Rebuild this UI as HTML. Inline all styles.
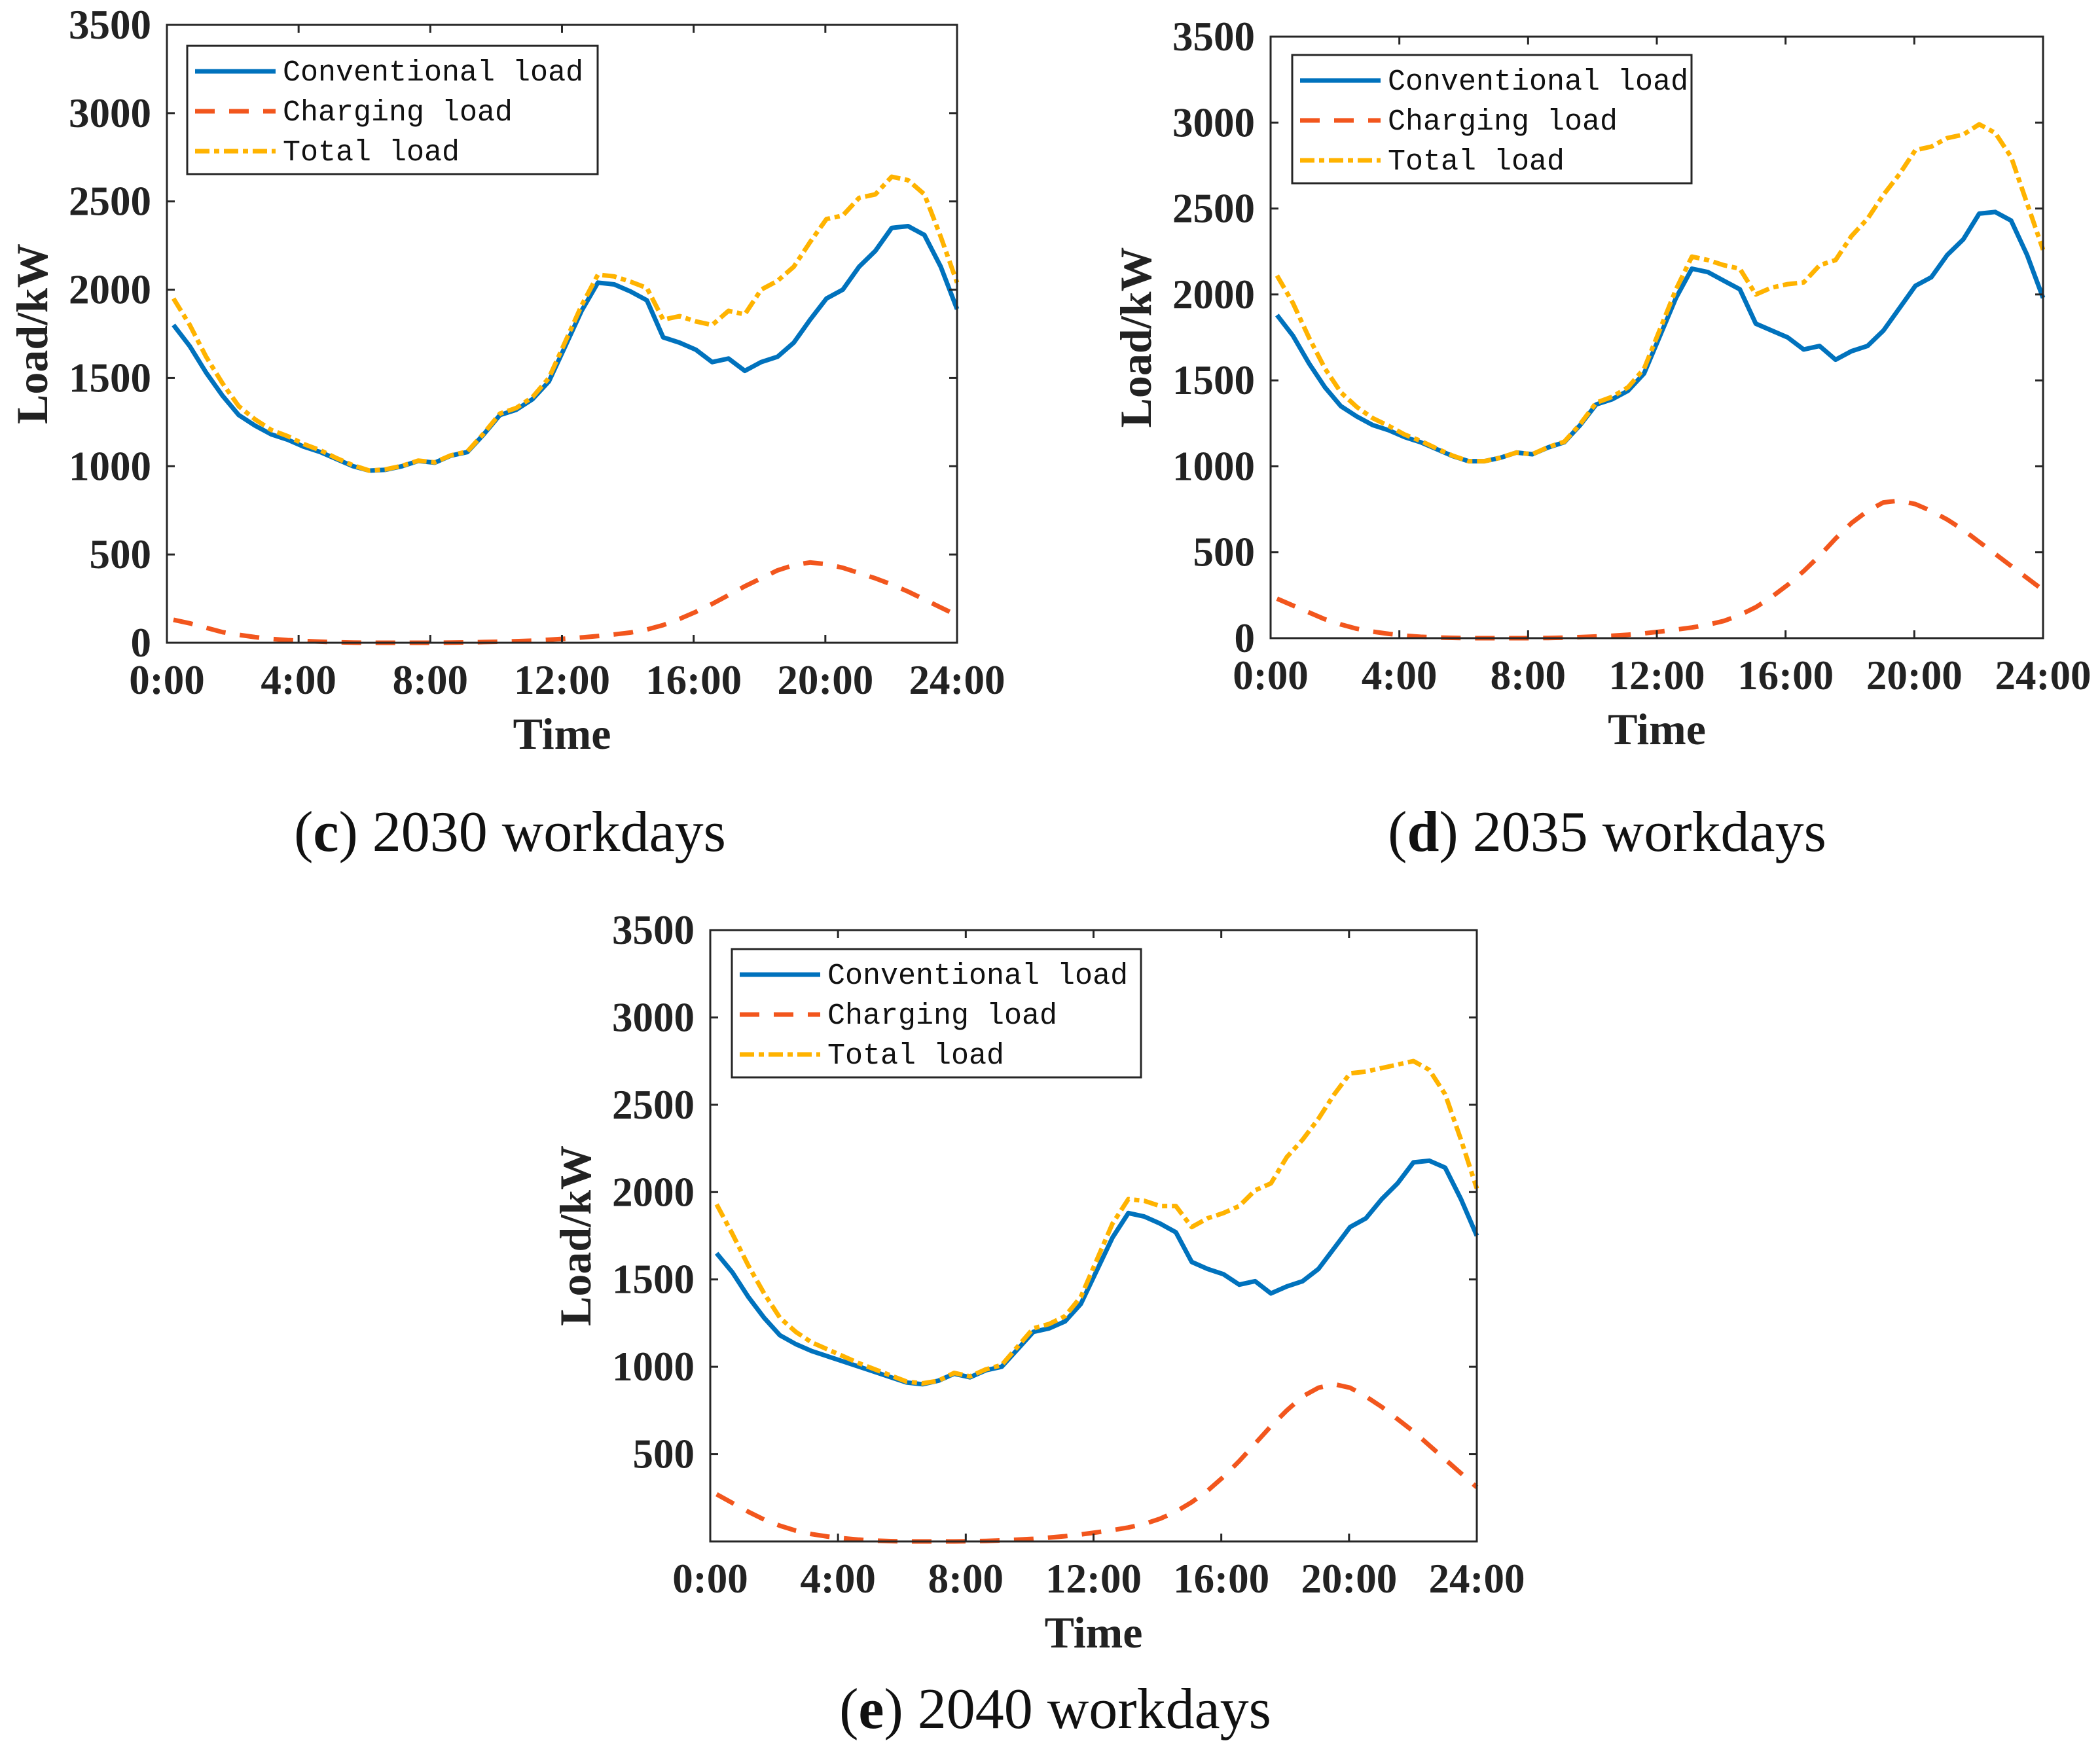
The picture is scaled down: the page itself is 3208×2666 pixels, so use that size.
<!DOCTYPE html>
<html><head><meta charset="utf-8"><style>
html,body{margin:0;padding:0;background:#fff;}
svg{display:block;}
.tick{font-family:"Liberation Serif",serif;font-weight:bold;font-size:63px;fill:#222;}
.axt{font-family:"Liberation Serif",serif;font-weight:bold;font-size:68px;fill:#222;}
.leg{font-family:"Liberation Mono",monospace;font-size:45px;fill:#111;}
.cap{font-family:"Liberation Serif",serif;font-size:88px;fill:#111;}
</style></head><body>
<svg id="fig" width="3208" height="2666" viewBox="0 0 3208 2666" xmlns="http://www.w3.org/2000/svg"></svg>
<script>
const hours=[0,0.5,1,1.5,2,2.5,3,3.5,4,4.5,5,5.5,6,6.5,7,7.5,8,8.5,9,9.5,10,10.5,11,11.5,12,12.5,13,13.5,14,14.5,15,15.5,16,16.5,17,17.5,18,18.5,19,19.5,20,20.5,21,21.5,22,22.5,23,23.5,24];
const xTickLabels=["0:00","4:00","8:00","12:00","16:00","20:00","24:00"];
const xTickValues=[0,4,8,12,16,20,24];
const yTickValues=[0,500,1000,1500,2000,2500,3000,3500];
const legendLabels=["Conventional  load","Charging load","Total  load"];

const conv2030=[1800,1680,1530,1400,1290,1230,1180,1150,1110,1080,1040,1000,975,980,1000,1030,1020,1060,1080,1180,1290,1320,1380,1480,1680,1880,2040,2030,1990,1940,1730,1700,1660,1590,1610,1540,1590,1620,1700,1830,1950,2000,2130,2220,2350,2360,2310,2130,1890];
const charge2030=[130,110,85,60,45,32,22,15,10,6,3,1,0,0,0,0,0,1,2,4,6,9,12,17,23,30,38,47,58,75,100,135,175,220,270,320,365,410,440,455,445,425,395,365,330,290,245,200,155];
const total2030=[1950,1800,1620,1470,1340,1265,1205,1170,1125,1090,1045,1005,975,982,1002,1032,1022,1062,1083,1185,1298,1330,1392,1500,1705,1910,2085,2075,2045,2010,1830,1850,1820,1800,1880,1860,2000,2050,2130,2270,2400,2420,2520,2540,2640,2620,2540,2300,2040];

const conv2035=[1880,1760,1600,1460,1350,1290,1240,1210,1170,1140,1100,1060,1030,1030,1050,1080,1070,1110,1140,1240,1360,1390,1440,1540,1760,1980,2150,2130,2080,2030,1830,1790,1750,1680,1700,1620,1670,1700,1790,1920,2050,2100,2230,2320,2470,2480,2430,2230,1980];
const charge2035=[230,190,150,110,80,55,38,25,15,8,4,2,0,0,0,0,0,1,3,6,10,14,20,28,38,50,62,78,100,135,180,240,310,390,480,580,670,740,790,800,780,740,690,630,560,490,420,350,280];
const total2035=[2110,1950,1750,1570,1430,1345,1280,1235,1185,1148,1104,1062,1030,1030,1050,1080,1070,1112,1143,1246,1370,1404,1460,1568,1798,2030,2220,2200,2170,2150,2000,2040,2060,2070,2170,2200,2340,2440,2580,2700,2840,2860,2910,2930,2990,2940,2800,2530,2260];

const conv2040=[1650,1540,1400,1280,1180,1130,1090,1060,1030,1000,970,940,910,900,920,960,940,980,1000,1100,1200,1220,1260,1360,1550,1740,1880,1860,1820,1770,1600,1560,1530,1470,1490,1420,1460,1490,1560,1680,1800,1850,1960,2050,2170,2180,2140,1960,1750];
const charge2040=[270,220,170,125,90,62,42,28,18,10,5,2,0,0,0,0,1,3,6,10,15,22,30,40,52,65,80,100,130,170,225,290,370,460,560,660,750,830,880,900,880,830,770,700,630,550,470,390,310];
const total2040=[1930,1760,1580,1420,1280,1200,1140,1100,1060,1020,985,950,915,905,920,965,945,985,1010,1115,1220,1245,1290,1400,1610,1820,1960,1950,1920,1920,1800,1850,1880,1920,2010,2050,2200,2300,2420,2560,2680,2690,2710,2730,2750,2700,2560,2300,2020];

const NS="http://www.w3.org/2000/svg";
const svg=document.getElementById('fig');
function mk(tag,attrs,parent,text){const e=document.createElementNS(NS,tag);for(const k in attrs)e.setAttribute(k,attrs[k]);if(text!==undefined)e.textContent=text;(parent||svg).appendChild(e);return e;}

const COL={conv:"#0072BD",charge:"#F2561D",total:"#FFB300"};
const DASH={conv:"none",charge:"30,22",total:"22,7,8,7"};

function panel(cfg){
  const g=mk('g',{});
  
  
  const L=cfg.l,R=cfg.r,T=cfg.t,B=cfg.b;
  const xs=h=>L+(h+0.2)/24.2*(R-L);
  const xt=h=>L+h/24*(R-L);
  const ys=v=>B-v/3500*(B-T);
  const series=[["conv",cfg.conv,"conventional-load-line"],["charge",cfg.charge,"charging-load-line"],["total",cfg.total,"total-load-line"]];
  [series[0],series[2],series[1]].forEach(s=>{
    const d=s[1].map((v,i)=>(i?'L':'M')+xs(hours[i]).toFixed(1)+','+ys(v).toFixed(1)).join(' ');
    const p=mk('path',{d:d,fill:'none',stroke:COL[s[0]],'stroke-width':7,'stroke-linejoin':'round','stroke-dasharray':DASH[s[0]]},g);
    
    
  });
  const box=mk('rect',{x:L,y:T,width:R-L,height:B-T,fill:'none',stroke:'#262626','stroke-width':3},g);
  
  
  xTickValues.forEach((v,i)=>{
    const x=xt(v);
    mk('line',{x1:x,y1:B,x2:x,y2:B-12,stroke:'#262626','stroke-width':3},g);
    mk('line',{x1:x,y1:T,x2:x,y2:T+12,stroke:'#262626','stroke-width':3},g);
    const t=mk('text',{x:x,y:B+78,'text-anchor':'middle',class:'tick'},g,xTickLabels[i]);
    
    
  });
  yTickValues.forEach(v=>{
    const y=ys(v);
    mk('line',{x1:L,y1:y,x2:L+12,y2:y,stroke:'#262626','stroke-width':3},g);
    mk('line',{x1:R,y1:y,x2:R-12,y2:y,stroke:'#262626','stroke-width':3},g);
    if(v===0&&cfg.noZero)return;
    const t=mk('text',{x:L-24,y:y+21,'text-anchor':'end',class:'tick'},g,String(v));
    
    
  });
  const xa=mk('text',{x:(L+R)/2,y:B+162,'text-anchor':'middle',class:'axt'},g,'Time');
  
  
  const ya=mk('text',{x:0,y:0,'text-anchor':'middle',class:'axt',transform:'translate('+(L-183)+','+((T+B)/2)+') rotate(-90)'},g,'Load/kW');
  
  
  const lg=mk('g',{},g);
  
  
  mk('rect',{x:cfg.lx,y:cfg.ly,width:cfg.lw,height:196,fill:'#fff',stroke:'#262626','stroke-width':3},lg);
  ["conv","charge","total"].forEach((k,i)=>{
    const y=cfg.ly+39+i*61;
    const e=mk('g',{},lg);
    
    
    mk('line',{x1:cfg.lx+12,y1:y,x2:cfg.lx+135,y2:y,stroke:COL[k],'stroke-width':7,'stroke-dasharray':DASH[k]},e);
    mk('text',{x:cfg.lx+146,y:y+14,class:'leg'},e,legendLabels[i]);
  });
  const c=mk('text',{x:cfg.cx,y:cfg.cy,'text-anchor':'middle',class:'cap'},g);
  
  
  mk('tspan',{},c,'(');
  mk('tspan',{'font-weight':'bold'},c,cfg.letter);
  mk('tspan',{},c,') '+cfg.caption);
}

panel({id:'2030',l:255,r:1462,t:38,b:982,conv:conv2030,charge:charge2030,total:total2030,lx:286,ly:70,lw:627,cx:779,cy:1300,letter:'c',caption:'2030 workdays'});
panel({id:'2035',l:1941,r:3121,t:56,b:975,conv:conv2035,charge:charge2035,total:total2035,lx:1974,ly:84,lw:610,cx:2455,cy:1300,letter:'d',caption:'2035 workdays'});
panel({id:'2040',l:1085,r:2256,t:1421,b:2355,conv:conv2040,charge:charge2040,total:total2040,lx:1118,ly:1450,lw:625,cx:1612,cy:2640,letter:'e',caption:'2040 workdays',noZero:true});
</script>
</body></html>
